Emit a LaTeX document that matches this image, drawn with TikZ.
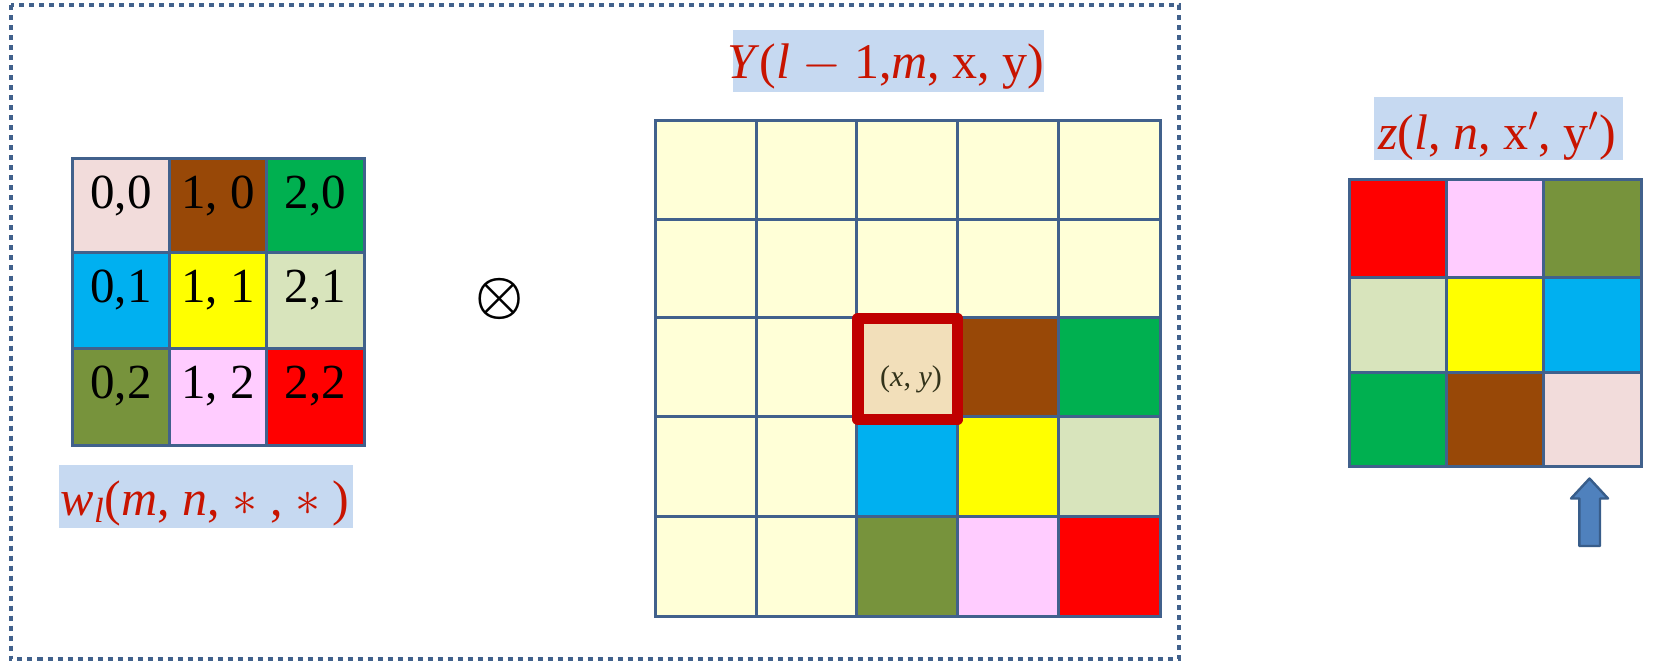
\RequirePackage{fix-cm}
\documentclass[tikz,border=0pt]{standalone}
\usepackage{amsmath}
\usepackage{fontspec}
\setmainfont{Liberation Serif}
\definecolor{gridc}{HTML}{41618C}
\definecolor{cPinkL}{HTML}{F2DCDB}
\definecolor{cBrown}{HTML}{984807}
\definecolor{cGreen}{HTML}{00B050}
\definecolor{cBlue}{HTML}{00B0F0}
\definecolor{cYellow}{HTML}{FFFF00}
\definecolor{cSage}{HTML}{D8E4BC}
\definecolor{cOlive}{HTML}{77933C}
\definecolor{cPink}{HTML}{FFCCFF}
\definecolor{cRed}{HTML}{FF0000}
\definecolor{cCream}{HTML}{FFFFD7}
\definecolor{cWheat}{HTML}{F2DFBA}
\definecolor{lblfill}{HTML}{C6D9F1}
\definecolor{lbltext}{HTML}{C81400}
\definecolor{hiRed}{HTML}{C00000}
\definecolor{arrowFill}{HTML}{4F81BD}
\definecolor{arrowLine}{HTML}{385D8A}
\definecolor{xytext}{HTML}{33331A}
\begin{document}
\begin{tikzpicture}[x=0.5pt,y=-0.5pt,
  frame/.style={draw=gridc, line width=2pt, dash pattern=on 2.5pt off 2.5pt},
  cellbox/.style={draw=gridc, line width=1.5pt},
  celltxt/.style={anchor=base, inner sep=0, font=\fontsize{24.5}{28}\selectfont},
  lblbox/.style={fill=lblfill, inner sep=0},
  lbl/.style={anchor=base, inner sep=0, text=lbltext, font=\fontsize{25}{30}\selectfont},
  hibox/.style={draw=hiRed, line width=5.75pt, line join=round, fill=cWheat},
  xytxt/.style={anchor=base, inner sep=0, text=xytext, font=\fontsize{15}{18}\selectfont},
  uparrow/.style={fill=arrowFill, draw=arrowLine, line width=1.2pt, line join=round}
]
\useasboundingbox (0,0) rectangle (1653,663);

% dotted frame
\draw[frame] (10.5,5.5) rectangle (1179,658.5);

% ---- kernel grid (left)
\foreach \xa/\xb/\ya/\yb/\fc/\t/\n in {
  72.5/169.3/158.4/252.9/cPinkL/{0,0}/00,
  169.3/266.4/158.4/252.9/cBrown/{1, 0}/10,
  266.4/364.3/158.4/252.9/cGreen/{2,0}/20,
  72.5/169.3/252.9/348/cBlue/{0,1}/01,
  169.3/266.4/252.9/348/cYellow/{1, 1}/11,
  266.4/364.3/252.9/348/cSage/{2,1}/21,
  72.5/169.3/348/445/cOlive/{0,2}/02,
  169.3/266.4/348/445/cPink/{1, 2}/12,
  266.4/364.3/348/445/cRed/{2,2}/22}{
  \path[cellbox, fill=\fc] (\xa,\ya) rectangle (\xb,\yb);
  \node[celltxt] (k\n) at ({(\xa+\xb)/2},{\ya+50}) {\t};
}

% kernel label
\node[lblbox, minimum width=147pt, minimum height=31.5pt] (wbox) at (206,496.5) {};
\node[lbl] (wlbl) at (205,515) {\textit{w}\textsubscript{\textit{l}}(\textit{m}, \textit{n}, $\ast$ , $\ast$ )};

% convolution operator
\node[inner sep=0, font=\fontsize{27}{30}\selectfont] (op) at (500,298.6) {$\boldsymbol{\otimes}$};

% ---- input grid (middle)
\foreach \xa/\xb in {655/756.4, 756.4/856.8, 856.8/957.5, 957.5/1058.6, 1058.6/1160}{
  \foreach \ya/\yb in {120.5/219.3, 219.3/317, 317/416, 416/516, 516/616.5}{
    \path[cellbox, fill=cCream] (\xa,\ya) rectangle (\xb,\yb);
  }
}
\foreach \xa/\xb/\ya/\yb/\fc in {
  957.5/1058.6/317/416/cBrown,
  1058.6/1160/317/416/cGreen,
  856.8/957.5/416/516/cBlue,
  957.5/1058.6/416/516/cYellow,
  1058.6/1160/416/516/cSage,
  856.8/957.5/516/616.5/cOlive,
  957.5/1058.6/516/616.5/cPink,
  1058.6/1160/516/616.5/cRed}{
  \path[cellbox, fill=\fc] (\xa,\ya) rectangle (\xb,\yb);
}
\path[hibox] (858,318.5) rectangle (957.5,419.5);
\node[xytxt] (xy) at (911,386) {(\textit{x}, \textit{y})};

% input label
\node[lblbox, minimum width=155.5pt, minimum height=31pt] (ybox) at (888.5,61.3) {};
\node[lbl] (ylbl) at (886,79) {\textit{Y}(\textit{l} $-$ 1,\textit{m}, x, y)};

% ---- output grid (right)
\foreach \xa/\xb/\ya/\yb/\fc in {
  1349/1446/179.5/277/cRed,
  1446/1543.3/179.5/277/cPink,
  1543.3/1641/179.5/277/cOlive,
  1349/1446/277/372/cSage,
  1446/1543.3/277/372/cYellow,
  1543.3/1641/277/372/cBlue,
  1349/1446/372/466.5/cGreen,
  1446/1543.3/372/466.5/cBrown,
  1543.3/1641/372/466.5/cPinkL}{
  \path[cellbox, fill=\fc] (\xa,\ya) rectangle (\xb,\yb);
}

% output label
\node[lblbox, minimum width=124.5pt, minimum height=31.5pt] (zbox) at (1498.4,129) {};
\node[lbl] (zlbl) at (1497,150) {\textit{z}(\textit{l}, \textit{n}, x$'$, y$'$)};

% block arrow
\path[uparrow] (1579.3,546) -- (1579.3,498.5) -- (1571,498.5) -- (1589.5,478.5)
  -- (1608,498.5) -- (1600,498.5) -- (1600,546) -- cycle;
\end{tikzpicture}
\end{document}
